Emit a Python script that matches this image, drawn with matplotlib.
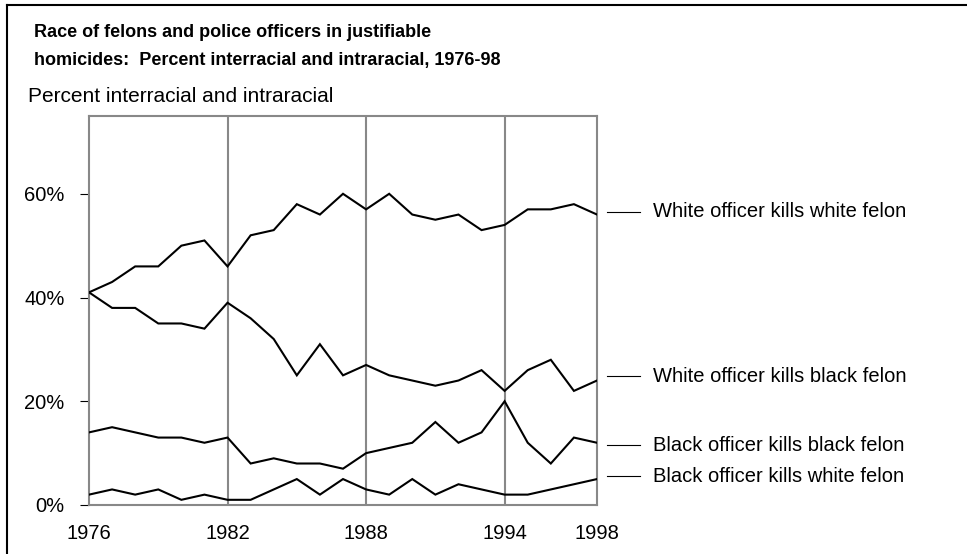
import numpy as np
import matplotlib
matplotlib.use('Agg')
import matplotlib.pyplot as plt
from matplotlib.lines import Line2D

###############################################################################

years = list(range(1976, 1999))

# Percent of justifiable homicides, by race of officer and felon
white_white = [41, 43, 46, 46, 50, 51, 46, 52, 53, 58, 56, 60,
               57, 60, 56, 55, 56, 53, 54, 57, 57, 58, 56]
white_black = [41, 38, 38, 35, 35, 34, 39, 36, 32, 25, 31, 25,
               27, 25, 24, 23, 24, 26, 22, 26, 28, 22, 24]
black_black = [14, 15, 14, 13, 13, 12, 13, 8, 9, 8, 8, 7,
               10, 11, 12, 16, 12, 14, 20, 12, 8, 13, 12]
black_white = [2, 3, 2, 3, 1, 2, 1, 1, 3, 5, 2, 5,
               3, 2, 5, 2, 4, 3, 2, 2, 3, 4, 5]

series_labels = ['White officer kills white felon',
                 'White officer kills black felon',
                 'Black officer kills black felon',
                 'Black officer kills white felon']

# y-position of each end label (percent)
label_pos = [56.5, 24.8, 11.5, 5.5]

x_ticks = [1976, 1982, 1988, 1994, 1998]
y_ticks = [0, 20, 40, 60]

###############################################################################

plt.rcParams['font.family'] = ['Liberation Sans', 'DejaVu Sans']

W, H = 967, 554
fig = plt.figure(figsize=(W / 100, H / 100), dpi=100)
ax = fig.add_axes([89 / W, 1 - 505 / H, 508 / W, 389 / H])

all_series = [white_white, white_black, black_black, black_white]
for vals in all_series:
    ax.plot(years, vals, color='black', lw=1.5, solid_joinstyle='miter',
            zorder=3)

ax.set_xlim(1976, 1998)
ax.set_ylim(0, 75)

# Gray vertical gridlines
for yr in [1982, 1988, 1994]:
    ax.axvline(yr, color='#888888', lw=1.5, zorder=1)

for sp in ax.spines.values():
    sp.set_color('#888888')
    sp.set_linewidth(1.5)

ax.set_yticks(y_ticks)
ax.set_yticklabels(['%d%%' % v for v in y_ticks], fontsize=14.5)
ax.tick_params(axis='y', length=6.5, width=0.8, color='black',
               direction='out', pad=11)
ax.set_xticks(x_ticks)
ax.set_xticklabels([str(v) for v in x_ticks], fontsize=14.5)
ax.tick_params(axis='x', length=0, pad=14)

# End-of-line labels
for lab, yv in zip(series_labels, label_pos):
    ax.plot([1998.43, 1999.86], [yv, yv], color='black', lw=0.8,
            clip_on=False)
    ax.text(2000.43, yv, lab, fontsize=14.5, va='center', ha='left')

# Titles
fig.text(34 / W, 1 - 37 / H, 'Race of felons and police officers in justifiable',
         fontsize=13, fontweight='bold', va='baseline')
fig.text(34 / W, 1 - 65 / H,
         'homicides:  Percent interracial and intraracial, 1976-98',
         fontsize=13, fontweight='bold', va='baseline')
fig.text(28 / W, 1 - 102 / H, 'Percent interracial and intraracial',
         fontsize=15, va='baseline')

# Frame around the figure (top and left edges)
fig.add_artist(Line2D([7 / W, 7 / W], [0, 1 - 5 / H], color='black', lw=1.5,
                      transform=fig.transFigure))
fig.add_artist(Line2D([7 / W, 1], [1 - 5 / H, 1 - 5 / H], color='black',
                      lw=1.5, transform=fig.transFigure))

plt.savefig('out.png', dpi=100)
